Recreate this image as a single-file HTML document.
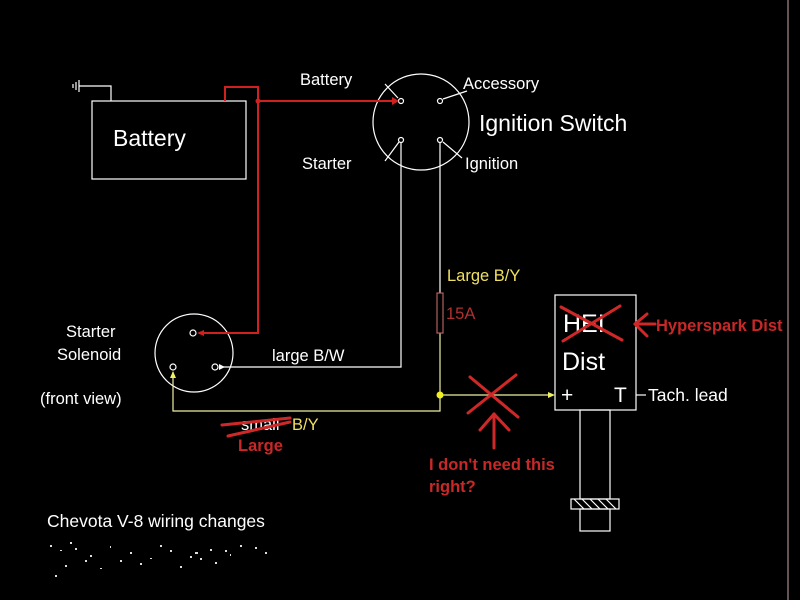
<!DOCTYPE html>
<html><head><style>
html,body{margin:0;padding:0;background:#000;}
svg{display:block}
text{font-family:"Liberation Sans",Arial,sans-serif;}
</style></head><body>
<svg width="800" height="600" viewBox="0 0 800 600" xmlns="http://www.w3.org/2000/svg">
<rect width="800" height="600" fill="#000"/>
<line x1="788" y1="0" x2="788" y2="600" stroke="#c8a8a8" stroke-width="1"/>
<g stroke="#fff" stroke-width="1.2" fill="none">
<line x1="73" y1="84" x2="73" y2="88"/><line x1="76" y1="82" x2="76" y2="90"/><line x1="79" y1="80" x2="79" y2="92"/>
<polyline points="79,86 111,86 111,101"/>
<rect x="92" y="101" width="154" height="78"/>
<circle cx="421" cy="122" r="48"/>
<circle cx="401" cy="101" r="2.5"/><circle cx="440" cy="101" r="2.5"/>
<circle cx="401" cy="140" r="2.5"/><circle cx="440" cy="140" r="2.5"/>
<line x1="385" y1="84" x2="398" y2="98"/><line x1="443" y1="99" x2="467" y2="91"/>
<line x1="385" y1="161" x2="399" y2="142"/><line x1="443" y1="142" x2="462" y2="158"/>
<polyline points="401,143 401,367 222,367"/>
<line x1="440" y1="143" x2="440" y2="293"/>
<circle cx="194" cy="353" r="39"/>
<circle cx="193" cy="333" r="3"/><circle cx="173" cy="367" r="3"/><circle cx="215" cy="367" r="3"/>
<rect x="555" y="295" width="81" height="115"/>
<line x1="636" y1="395" x2="646" y2="395"/>
<rect x="580" y="410" width="30" height="89"/>
<rect x="571" y="499" width="48" height="10"/>
<rect x="580" y="509" width="30" height="22"/>
<path d="M574,499l10,10M582,499l10,10M590,499l10,10M598,499l10,10M606,499l10,10"/>
</g>
<polygon points="219,364 225,367 219,370" fill="#fff"/>
<g stroke="#d02020" stroke-width="2" fill="none">
<polyline points="225,101 225,87 258,87 258,333 199,333"/>
<line x1="258" y1="101" x2="394" y2="101"/>
</g>
<circle cx="258" cy="101" r="2.5" fill="#d02020"/>
<polygon points="392,97 399,101 392,105" fill="#d02020"/>
<polygon points="204,330 197,333 204,336" fill="#d02020"/>
<g stroke="#f0f0a0" stroke-width="1.2" fill="none">
<polyline points="173,372 173,411 440,411 440,333"/>
<line x1="440" y1="395" x2="550" y2="395"/>
<rect x="437" y="293" width="6" height="40" stroke="#b06060"/>
</g>
<polygon points="170,378 173,371 176,378" fill="#f0f060"/>
<polygon points="548,392 555,395 548,398" fill="#f0f060"/>
<circle cx="440" cy="395" r="3.5" fill="#f0f020"/>
<g fill="#fff">
<text x="113" y="146" font-size="23">Battery</text>
<text x="300" y="85" font-size="16.5">Battery</text>
<text x="302" y="169" font-size="16.5">Starter</text>
<text x="463" y="89" font-size="16.5">Accessory</text>
<text x="479" y="131" font-size="23">Ignition Switch</text>
<text x="465" y="169" font-size="16.5">Ignition</text>
<text x="66" y="337" font-size="16.5">Starter</text>
<text x="57" y="360" font-size="16.5">Solenoid</text>
<text x="40" y="404" font-size="16.5">(front view)</text>
<text x="272" y="361" font-size="16.5">large B/W</text>
<text x="563" y="332" font-size="25">HEI</text>
<text x="562" y="370" font-size="25">Dist</text>
<text x="561" y="402" font-size="21">+</text>
<text x="614" y="402" font-size="21">T</text>
<text x="648" y="401" font-size="17.5">Tach. lead</text>
<text x="47" y="527" font-size="17.5">Chevota V-8 wiring changes</text>
<text x="241" y="430" font-size="16.5">small</text>
</g>
<text x="447" y="281" font-size="16.5" fill="#f0e060">Large B/Y</text>
<text x="446" y="319" font-size="16.5" fill="#b03030">15A</text>
<text x="292" y="430" font-size="16.5" fill="#f0e060">B/Y</text>
<g fill="#c82828" font-weight="bold" font-size="16.5">
<text x="238" y="451">Large</text>
<text x="656" y="331">Hyperspark Dist</text>
<text x="429" y="470">I don't need this</text>
<text x="429" y="492">right?</text>
</g>
<g stroke="#d02828" stroke-width="3" fill="none" stroke-linecap="round">
<line x1="561" y1="307" x2="622" y2="340"/><line x1="563" y1="341" x2="620" y2="306"/>
<line x1="222" y1="425" x2="290" y2="418"/><line x1="228" y1="436" x2="290" y2="422"/>
<line x1="470" y1="377" x2="518" y2="417"/><line x1="516" y1="375" x2="468" y2="413"/>
<line x1="494" y1="414" x2="494" y2="448"/><line x1="494" y1="414" x2="480" y2="430"/><line x1="494" y1="414" x2="509" y2="430"/>
<line x1="635" y1="324" x2="655" y2="324"/><line x1="635" y1="324" x2="647" y2="314"/><line x1="635" y1="324" x2="647" y2="336"/>
</g>
<g fill="#ddd">
<rect x="50" y="545" width="2" height="2"/><rect x="60" y="550" width="2" height="1"/><rect x="75" y="548" width="2" height="2"/>
<rect x="90" y="555" width="2" height="2"/><rect x="110" y="546" width="1" height="2"/><rect x="130" y="552" width="2" height="2"/>
<rect x="150" y="558" width="2" height="1"/><rect x="170" y="550" width="2" height="2"/><rect x="190" y="556" width="2" height="2"/>
<rect x="210" y="549" width="2" height="2"/><rect x="230" y="554" width="1" height="2"/><rect x="255" y="547" width="2" height="2"/>
<rect x="65" y="565" width="2" height="2"/><rect x="100" y="568" width="2" height="1"/><rect x="140" y="563" width="2" height="2"/>
<rect x="180" y="566" width="2" height="2"/><rect x="215" y="562" width="2" height="2"/><rect x="55" y="575" width="2" height="2"/>
<rect x="70" y="542" width="2" height="2"/><rect x="120" y="560" width="2" height="2"/><rect x="160" y="545" width="2" height="2"/>
<rect x="200" y="558" width="2" height="2"/><rect x="240" y="545" width="2" height="2"/><rect x="85" y="560" width="2" height="2"/>
<rect x="195" y="552" width="3" height="2"/><rect x="225" y="550" width="2" height="2"/><rect x="265" y="552" width="2" height="2"/>
</g>
</svg>
</body></html>
